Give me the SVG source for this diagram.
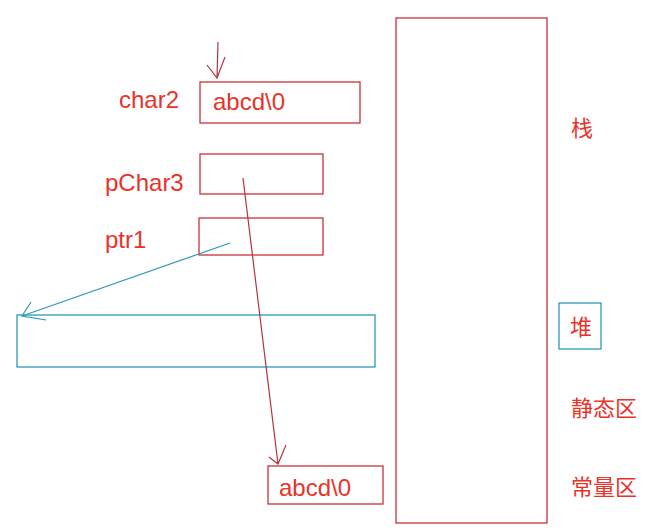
<svg xmlns="http://www.w3.org/2000/svg" width="662" height="531" viewBox="0 0 662 531">
<style>
.t{font-family:"Liberation Sans","Noto Sans CJK SC",sans-serif;font-size:24px;fill:#e8332a}
.c{font-family:"Noto Sans CJK SC","Liberation Sans",sans-serif;font-size:22px;fill:#e8332a}
.rb{fill:none;stroke:#c8343a;stroke-width:1.3}
.cb{fill:none;stroke:#2c9ab8;stroke-width:1.3}
.rl{fill:none;stroke:#b8323a;stroke-width:1.2}
.cl{fill:none;stroke:#2c9ab8;stroke-width:1.2}
</style>
<rect width="662" height="531" fill="#fff"/>
<g id="stack-area"><rect class="rb" x="396" y="18" width="151" height="505"/></g>
<g id="char2">
<text class="t" x="119" y="108">char2</text>
<rect class="rb" x="200" y="82" width="160" height="41"/>
<text class="t" x="213" y="110">abcd\0</text>
</g>
<g id="pChar3">
<text class="t" x="105" y="191">pChar3</text>
<rect class="rb" x="200" y="154" width="123" height="40"/>
</g>
<g id="ptr1">
<text class="t" x="105" y="248">ptr1</text>
<rect class="rb" x="199" y="218" width="124" height="37"/>
</g>
<g id="heap-block"><rect class="cb" x="17" y="315" width="358" height="52"/></g>
<g id="const-str">
<rect class="rb" x="268" y="466" width="115" height="38"/>
<text class="t" x="279" y="496">abcd\0</text>
</g>
<g id="labels">
<text class="c" x="571" y="136">栈</text>
<rect class="cb" x="559" y="303" width="42" height="46"/>
<text class="c" x="570" y="335">堆</text>
<text class="c" x="571" y="416">静态区</text>
<text class="c" x="571" y="495">常量区</text>
</g>
<g id="connectors">
<path class="rl" d="M218 42 L217 78 M207 65 L217 78 L225 57"/>
<path class="rl" d="M243 178 L278 464 M269 457 L278 464 L286 445"/>
<path class="cl" d="M230 243 L22 316 M31 302 L22 316 L46 320"/>
</g>
</svg>
